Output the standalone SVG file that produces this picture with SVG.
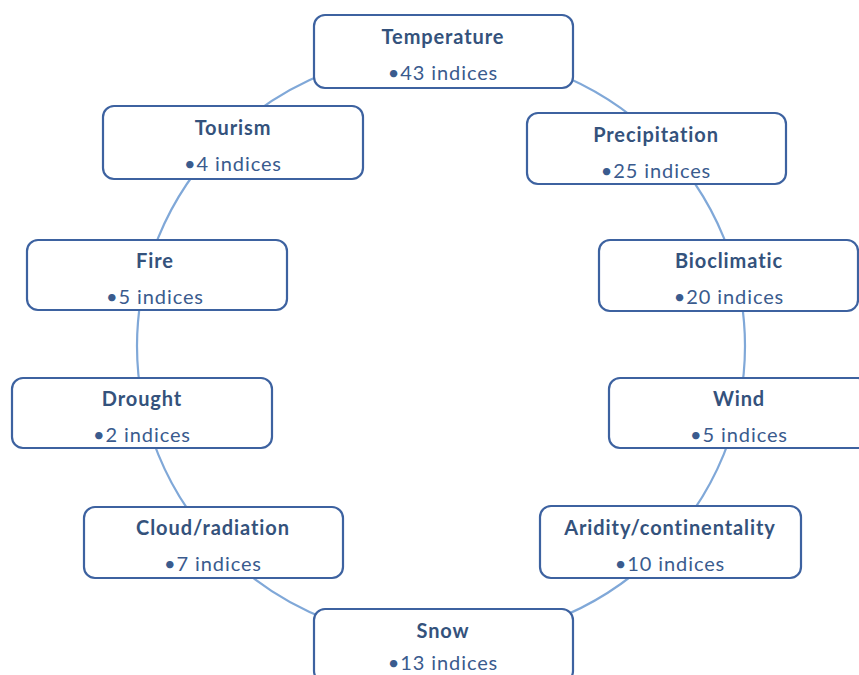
<svg xmlns="http://www.w3.org/2000/svg" width="859" height="675" viewBox="0 0 859 675">
<style>
.box{fill:#fff;stroke:#3d62a0;stroke-width:2.2}
.t{font-family:Lato,"Liberation Sans",sans-serif;font-weight:bold;font-size:20px;letter-spacing:0.9px;fill:#34527c;text-anchor:middle}
.s{font-family:Lato,"Liberation Sans",sans-serif;font-size:20px;letter-spacing:0.9px;fill:#3a5b8e;text-anchor:middle}
</style>
<rect width="859" height="675" fill="#fff"/>
<g id="connectors">
<ellipse cx="441" cy="346" rx="304" ry="295" fill="none" stroke="#80a8d8" stroke-width="2.2"/>
</g>
<g id="temperature"><rect class="box" x="314" y="15" width="259" height="73" rx="11"/><text class="t" x="443" y="44">Temperature</text><text class="s" x="443" y="80">•43 indices</text></g>
<g id="tourism"><rect class="box" x="103" y="106" width="260" height="73" rx="11"/><text class="t" x="233" y="135">Tourism</text><text class="s" x="233" y="171">•4 indices</text></g>
<g id="precipitation"><rect class="box" x="527" y="113" width="259" height="71" rx="11"/><text class="t" x="656" y="142">Precipitation</text><text class="s" x="656" y="178">•25 indices</text></g>
<g id="fire"><rect class="box" x="27" y="240" width="260" height="70" rx="11"/><text class="t" x="155" y="268">Fire</text><text class="s" x="155" y="304">•5 indices</text></g>
<g id="bioclimatic"><rect class="box" x="599" y="240" width="259" height="71" rx="11"/><text class="t" x="729" y="268">Bioclimatic</text><text class="s" x="729" y="304">•20 indices</text></g>
<g id="drought"><rect class="box" x="12" y="378" width="260" height="70" rx="11"/><text class="t" x="142" y="406">Drought</text><text class="s" x="142" y="442">•2 indices</text></g>
<g id="wind"><rect class="box" x="609" y="378" width="260" height="70" rx="11"/><text class="t" x="739" y="406">Wind</text><text class="s" x="739" y="442">•5 indices</text></g>
<g id="cloud"><rect class="box" x="84" y="507" width="259" height="71" rx="11"/><text class="t" x="213" y="535">Cloud/radiation</text><text class="s" x="213" y="571">•7 indices</text></g>
<g id="aridity"><rect class="box" x="540" y="506" width="261" height="72" rx="11"/><text class="t" x="670" y="535">Aridity/continentality</text><text class="s" x="670" y="571">•10 indices</text></g>
<g id="snow"><rect class="box" x="314" y="609" width="259" height="73" rx="11"/><text class="t" x="443" y="638">Snow</text><text class="s" x="443" y="670">•13 indices</text></g>
</svg>
